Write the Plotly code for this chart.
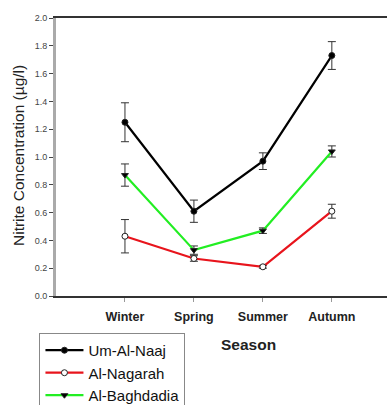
import plotly.graph_objects as go

seasons = ["Winter", "Spring", "Summer", "Autumn"]
x_pos = [1, 2, 3, 4]
um_al_naaj = [1.25, 0.61, 0.97, 1.73]
um_al_naaj_err = [0.14, 0.08, 0.06, 0.10]
al_nagarah = [0.43, 0.27, 0.21, 0.61]
al_nagarah_err = [0.12, 0.02, 0.01, 0.05]
al_baghdadia = [0.87, 0.33, 0.47, 1.04]
al_baghdadia_err = [0.08, 0.03, 0.02, 0.04]
y_ticks = [0.0, 0.2, 0.4, 0.6, 0.8, 1.0, 1.2, 1.4, 1.6, 1.8, 2.0]

fig = go.Figure()

def add(name, y, err, color, symbol, mfill):
    fig.add_trace(go.Scatter(
        x=x_pos, y=y, name=name, mode="lines+markers",
        line=dict(color=color, width=2.2),
        marker=dict(symbol=symbol, size=6, color=mfill, line=dict(color="#222", width=1)),
        error_y=dict(type="data", array=err, visible=True, color="#333", thickness=1, width=4),
    ))

add("Um-Al-Naaj", um_al_naaj, um_al_naaj_err, "#000000", "circle", "#000000")
add("Al-Nagarah", al_nagarah, al_nagarah_err, "#e8141c", "circle", "#ffffff")
add("Al-Baghdadia", al_baghdadia, al_baghdadia_err, "#22ee22", "triangle-down", "#000000")

fig.update_layout(
    width=387, height=405,
    margin=dict(l=56, r=0, t=18, b=109, autoexpand=False),
    paper_bgcolor="white", plot_bgcolor="white",
    font=dict(family="Liberation Sans, Arial, sans-serif", color="#222"),
    showlegend=True,
    legend=dict(x=-0.05, y=-0.133, xanchor="left", yanchor="top",
                bordercolor="#888", borderwidth=1, bgcolor="white",
                font=dict(size=15, color="#111"), tracegroupgap=0,
                itemwidth=38),
    xaxis=dict(range=[0, 4.8], tickvals=x_pos, ticktext=seasons,
               tickfont=dict(size=12.5, color="#222", family="Liberation Sans, Arial, sans-serif", weight="bold"),
               ticklabelstandoff=4,
               showline=True, linecolor="#333", linewidth=1.5, mirror=True,
               ticks="outside", ticklen=4, tickcolor="#999",
               showgrid=False, zeroline=False, fixedrange=True),
    yaxis=dict(range=[0, 2.0], tickvals=y_ticks, tickformat=".1f",
               tickfont=dict(size=9, color="#444"),
               showline=True, linecolor="#aaa", linewidth=3,
               ticks="outside", ticklen=4, tickcolor="#444",
               showgrid=False, zeroline=False),
    annotations=[
        dict(text="Season", x=0.583, y=-0.176, xref="paper", yref="paper",
             showarrow=False, font=dict(size=15.5, color="#222", weight="bold"),
             xanchor="center", yanchor="middle"),
        dict(text="Nitrite Concentration (\u00b5g/l)", x=-0.115, y=0.507, xref="paper", yref="paper",
             showarrow=False, textangle=-90, font=dict(size=15.5, color="#222"),
             xanchor="center", yanchor="middle"),
    ],
)

fig.write_html("out.html", config={"displayModeBar": False},
               post_script="document.body.style.margin='0';document.body.style.overflow='hidden';")
